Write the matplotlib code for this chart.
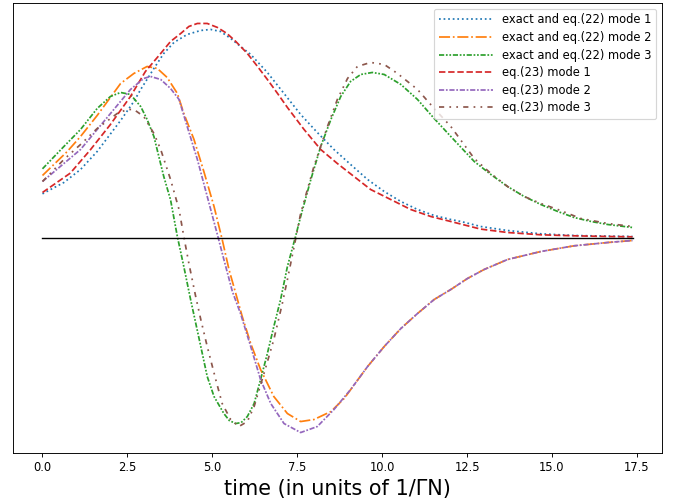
import matplotlib
matplotlib.use("Agg")
import matplotlib.pyplot as plt

# values (arbitrary y units, time in units of 1/GammaN)
t_blue = [0.0, 0.63, 1.12, 1.61, 2.3, 2.69, 2.89, 3.28, 3.57, 3.87, 4.26, 4.66, 4.95, 5.24,
          5.54, 5.83, 6.13, 6.62, 7.11, 7.6, 8.09, 8.58, 9.07, 9.57, 10.06, 10.55, 11.04,
          11.53, 12.02, 12.32, 12.9, 13.69, 14.67, 15.65, 16.64, 17.37]
v_blue = [4.37, 5.5, 6.8, 8.6, 11.7, 13.6, 14.8, 16.9, 18.4, 19.5, 20.3, 20.7, 20.8, 20.6,
          19.9, 19.1, 18.3, 16.5, 14.4, 12.3, 10.5, 8.8, 7.3, 5.8, 4.6, 3.6, 2.8,
          2.2, 1.8, 1.6, 1.1, 0.7, 0.37, 0.2, 0.14, 0.1]

t_orange = [0.0, 0.73, 1.12, 1.61, 2.3, 2.69, 3.08, 3.38, 3.67, 3.97, 4.16, 4.46, 4.75, 5.05,
            5.29, 5.49, 5.69, 5.88, 6.13, 6.42, 6.81, 7.21, 7.6, 7.99, 8.49, 8.88, 9.57,
            10.06, 10.55, 11.04, 11.53, 12.02, 12.51, 13.0, 13.69, 14.67, 15.65, 16.64, 17.37]
v_orange = [6.2, 8.6, 10.1, 12.2, 15.4, 16.4, 17.1, 16.9, 16.0, 14.4, 12.4, 9.8, 6.6, 3.1,
            -0.2, -3.2, -5.6, -7.9, -10.6, -13.2, -15.9, -17.6, -18.4, -18.2, -17.4, -16.1, -12.9,
            -10.9, -9.1, -7.6, -6.2, -5.2, -4.1, -3.2, -2.2, -1.4, -0.83, -0.5, -0.3]

t_green = [0.0, 0.63, 1.12, 1.61, 2.0, 2.3, 2.59, 2.89, 3.08, 3.28, 3.57, 3.77, 3.97, 4.16,
           4.36, 4.66, 4.85, 5.05, 5.34, 5.5, 5.69, 5.85, 6.03, 6.23, 6.42, 6.62, 6.81, 7.01,
           7.21, 7.45, 7.6, 7.9, 8.19, 8.49, 8.78, 9.07, 9.37, 9.71, 10.06, 10.55, 11.04,
           11.53, 12.02, 12.71, 13.2, 13.69, 14.18, 14.67, 15.17, 15.65, 16.15, 16.64, 17.37]
v_green = [6.87, 9.1, 10.8, 12.9, 14.1, 14.5, 14.3, 13.1, 11.8, 10.1, 6.1, 3.77, 0.1, -2.9,
           -6.2, -10.9, -13.9, -15.9, -17.6, -18.3, -18.6, -18.5, -17.9, -16.6, -14.2, -11.6,
           -8.9, -6.2, -2.9, 0.1, 2.1, 5.8, 9.1, 11.8, 14.1, 15.6, 16.3, 16.5, 16.3, 15.3, 13.8,
           11.9, 10.1, 7.6, 6.3, 5.1, 4.1, 3.3, 2.6, 2.0, 1.6, 1.3, 1.0]

t_red = [0.0, 0.82, 1.41, 2.0, 2.59, 3.03, 3.48, 3.77, 4.07, 4.31, 4.56, 4.85, 5.15, 5.43,
         5.69, 6.03, 6.33, 6.62, 6.92, 7.21, 7.7, 8.19, 8.68, 9.17, 9.66, 10.25, 10.84,
         11.43, 12.02, 12.9, 13.69, 14.67, 15.65, 16.64, 17.37]
v_red = [4.5, 6.44, 8.77, 11.3, 14.1, 16.6, 18.4, 19.6, 20.4, 21.1, 21.4, 21.4, 21.0, 20.4,
         19.6, 18.4, 17.1, 15.8, 14.4, 13.0, 10.8, 8.8, 7.4, 6.1, 4.8, 3.8, 2.8,
         2.1, 1.6, 0.84, 0.5, 0.27, 0.17, 0.1, 0.07]

t_purple = [0.0, 0.63, 1.12, 1.61, 2.1, 2.59, 2.98, 3.18, 3.48, 3.77, 4.02, 4.26, 4.56, 4.85,
            5.14, 5.34, 5.59, 5.83, 6.13, 6.42, 6.72, 7.11, 7.6, 8.09, 8.58, 9.07, 9.57,
            10.06, 10.55, 11.04, 11.53, 12.02, 12.51, 13.0, 13.69, 14.67, 15.65, 16.64, 17.37]
v_purple = [5.6, 7.4, 8.8, 10.8, 12.8, 14.8, 15.9, 16.1, 15.8, 14.9, 13.8, 11.1, 7.8, 4.1,
            0.4, -2.2, -5.4, -7.6, -10.9, -14.2, -16.6, -18.6, -19.5, -18.9, -17.2, -15.2, -12.9,
            -10.9, -9.1, -7.6, -6.2, -5.2, -4.1, -3.2, -2.2, -1.4, -0.83, -0.5, -0.3]

t_brown = [0.0, 0.63, 1.12, 1.61, 2.2, 2.5, 2.69, 2.98, 3.28, 3.48, 3.77, 4.02, 4.16, 4.31,
           4.51, 4.66, 4.85, 5.1, 5.29, 5.54, 5.78, 6.03, 6.23, 6.52, 6.81, 7.06, 7.21,
           7.45, 7.6, 7.99, 8.39, 8.68, 8.98, 9.27, 9.66, 10.06, 10.45, 11.04, 11.53, 12.02,
           12.71, 13.2, 13.69, 14.18, 14.67, 15.17, 15.85, 16.64, 17.37]
v_brown = [5.6, 7.8, 9.3, 10.9, 12.4, 12.8, 12.8, 12.1, 10.4, 8.8, 5.8, 2.8, 0.1, -2.6,
           -5.9, -8.2, -10.9, -14.2, -16.6, -18.2, -18.9, -18.4, -16.9, -13.6, -10.2, -6.6, -4.2,
           -0.2, 2.4, 7.1, 11.1, 13.8, 15.9, 17.1, 17.5, 17.3, 16.4, 14.8, 12.9, 11.1,
           7.9, 6.4, 5.1, 4.1, 3.4, 2.8, 1.9, 1.4, 1.1]

t_axis = [0.0, 17.37]
v_axis = [0.0, 0.0]

labels = ['exact and eq.(22) mode 1', 'exact and eq.(22) mode 2', 'exact and eq.(22) mode 3',
          'eq.(23) mode 1', 'eq.(23) mode 2', 'eq.(23) mode 3']

# the reference looks like a bigger figure shrunk down, so draw at dpi 83
fig = plt.figure(figsize=(673 / 83, 500 / 83), dpi=83)
ax = fig.add_axes([0.0193, 0.094, 0.9644, 0.9])

ax.plot(t_blue, v_blue, color='tab:blue', linestyle=':', label=labels[0])
ax.plot(t_orange, v_orange, color='tab:orange', linestyle='-.', label=labels[1])
ax.plot(t_green, v_green, color='tab:green', linestyle=(0, (3, 1, 1, 1, 1, 1)), label=labels[2])
ax.plot(t_red, v_red, color='tab:red', linestyle='--', label=labels[3])
ax.plot(t_purple, v_purple, color='tab:purple', linestyle=(0, (3, 1, 1, 1)), label=labels[4])
ax.plot(t_brown, v_brown, color='tab:brown', linestyle=(0, (3, 3, 1, 3, 1, 3)), label=labels[5])
ax.plot(t_axis, v_axis, color='k', linewidth=1.2)

ax.set_yticks([])
ax.set_xlabel('time (in units of 1/ΓN)', fontsize=18)
ax.legend(loc='upper right', handlelength=4.7, labelspacing=0.4)

fig.savefig('out.png', dpi=83)
